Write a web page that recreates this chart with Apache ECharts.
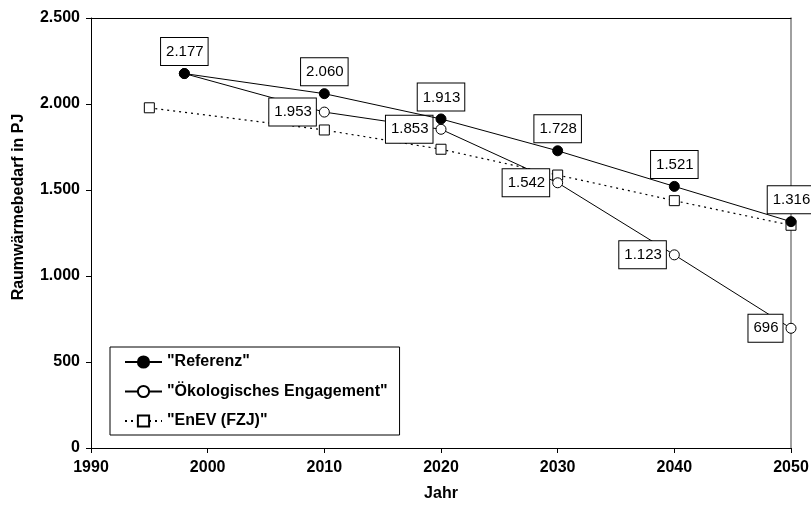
<!DOCTYPE html>
<html>
<head>
<meta charset="utf-8">
<script src="https://cdn.jsdelivr.net/npm/echarts@6/dist/echarts.min.js"></script>
<style>html,body{margin:0;padding:0;background:#fff}#c{width:811px;height:506px}</style>
</head>
<body>
<div id="c"></div>
<script>
var seriesNames = ['"Referenz"', '"Ökologisches Engagement"', '"EnEV (FZJ)"'];
var referenz = [[1998, 2177], [2010, 2060], [2020, 1913], [2030, 1728], [2040, 1521], [2050, 1316]];
var oekologisch = [[1998, 2177], [2010, 1953], [2020, 1853], [2030, 1542], [2040, 1123], [2050, 696]];
var enev = [[1995, 1978], [2010, 1849], [2020, 1737], [2030, 1587], [2040, 1438], [2050, 1295]];
var xTicks = [1990, 2000, 2010, 2020, 2030, 2040, 2050];
var yTicks = [0, 500, 1000, 1500, 2000, 2500];

var FONT = '"Liberation Sans", Arial, sans-serif';
function de(v) { return String(v).replace(/\B(?=(\d{3})+(?!\d))/g, '.'); }

var labelBox = {
  show: true, color: '#000', fontFamily: FONT, fontSize: 15, lineHeight: 16,
  backgroundColor: '#fff', borderColor: '#000', borderWidth: 1,
  padding: [6, 4, 5, 5], distance: 3,
  formatter: function (p) { return de(p.value[1]); }
};

var chart = echarts.init(document.getElementById('c'), null, {renderer: 'canvas'});
chart.setOption({
  animation: false,
  backgroundColor: '#fff',
  grid: {left: 91, right: 20, top: 18, bottom: 58, containLabel: false, outerBoundsMode: 'none'},
  xAxis: [{
    type: 'value', min: xTicks[0], max: xTicks[xTicks.length - 1], interval: 10,
    name: 'Jahr', nameLocation: 'middle', nameGap: 38,
    nameTextStyle: {fontFamily: FONT, fontWeight: 'bold', fontSize: 16, color: '#000'},
    axisLine: {show: true, lineStyle: {color: '#000', width: 1}},
    axisTick: {show: true, inside: false, length: 5, lineStyle: {color: '#000'}},
    axisLabel: {fontFamily: FONT, fontWeight: 'bold', fontSize: 16, color: '#000', margin: 12,
      formatter: function (v) { return String(v); }},
    splitLine: {show: false}
  }, {
    type: 'value', position: 'top', min: xTicks[0], max: xTicks[xTicks.length - 1],
    axisLine: {show: true, onZero: false, lineStyle: {color: '#000', width: 1}},
    axisTick: {show: false}, axisLabel: {show: false}, splitLine: {show: false}
  }],
  yAxis: [{
    type: 'value', min: yTicks[0], max: yTicks[yTicks.length - 1], interval: 500,
    name: 'Raumwärmebedarf in PJ', nameLocation: 'middle', nameGap: 64, nameRotate: 90,
    nameTextStyle: {fontFamily: FONT, fontWeight: 'bold', fontSize: 16, color: '#000', padding: [0, 0, 0, 52]},
    axisLine: {show: true, lineStyle: {color: '#000', width: 1}},
    axisTick: {show: true, inside: false, length: 5, lineStyle: {color: '#000'}},
    axisLabel: {fontFamily: FONT, fontWeight: 'bold', fontSize: 16, color: '#000', margin: 11, formatter: de},
    splitLine: {show: false}
  }, {
    type: 'value', position: 'right', min: yTicks[0], max: yTicks[yTicks.length - 1],
    axisLine: {show: true, onZero: false, lineStyle: {color: '#808080', width: 1.5}},
    axisTick: {show: false}, axisLabel: {show: false}, splitLine: {show: false}
  }],
  legend: {
    orient: 'vertical', left: 110, top: 347,
    backgroundColor: '#fff', borderColor: '#000', borderWidth: 1,
    padding: [7, 12, 6, 14], itemWidth: 37, itemHeight: 14, itemGap: 13.5,
    textStyle: {fontFamily: FONT, fontWeight: 'bold', fontSize: 16, color: '#000'},
    data: seriesNames
  },
  series: [{
    name: seriesNames[0], type: 'line', data: referenz, z: 5,
    symbol: 'circle', symbolSize: 10,
    itemStyle: {color: '#000', borderColor: '#000', borderWidth: 1},
    lineStyle: {color: '#000', width: 1},
    label: Object.assign({}, labelBox, {position: 'top'})
  }, {
    name: seriesNames[1], type: 'line', z: 4,
    data: oekologisch.map(function (d, i) { return i === 0 ? {value: d, label: {show: false}} : d; }),
    symbol: 'circle', symbolSize: 10,
    itemStyle: {color: '#fff', borderColor: '#000', borderWidth: 1},
    lineStyle: {color: '#000', width: 1},
    label: Object.assign({}, labelBox, {position: 'left'})
  }, {
    name: seriesNames[2], type: 'line', data: enev, z: 3,
    symbol: 'rect', symbolSize: 10,
    itemStyle: {color: '#fff', borderColor: '#000', borderWidth: 1},
    lineStyle: {color: '#000', width: 1.2, type: [2, 4]}
  }]
});
</script>
</body>
</html>
